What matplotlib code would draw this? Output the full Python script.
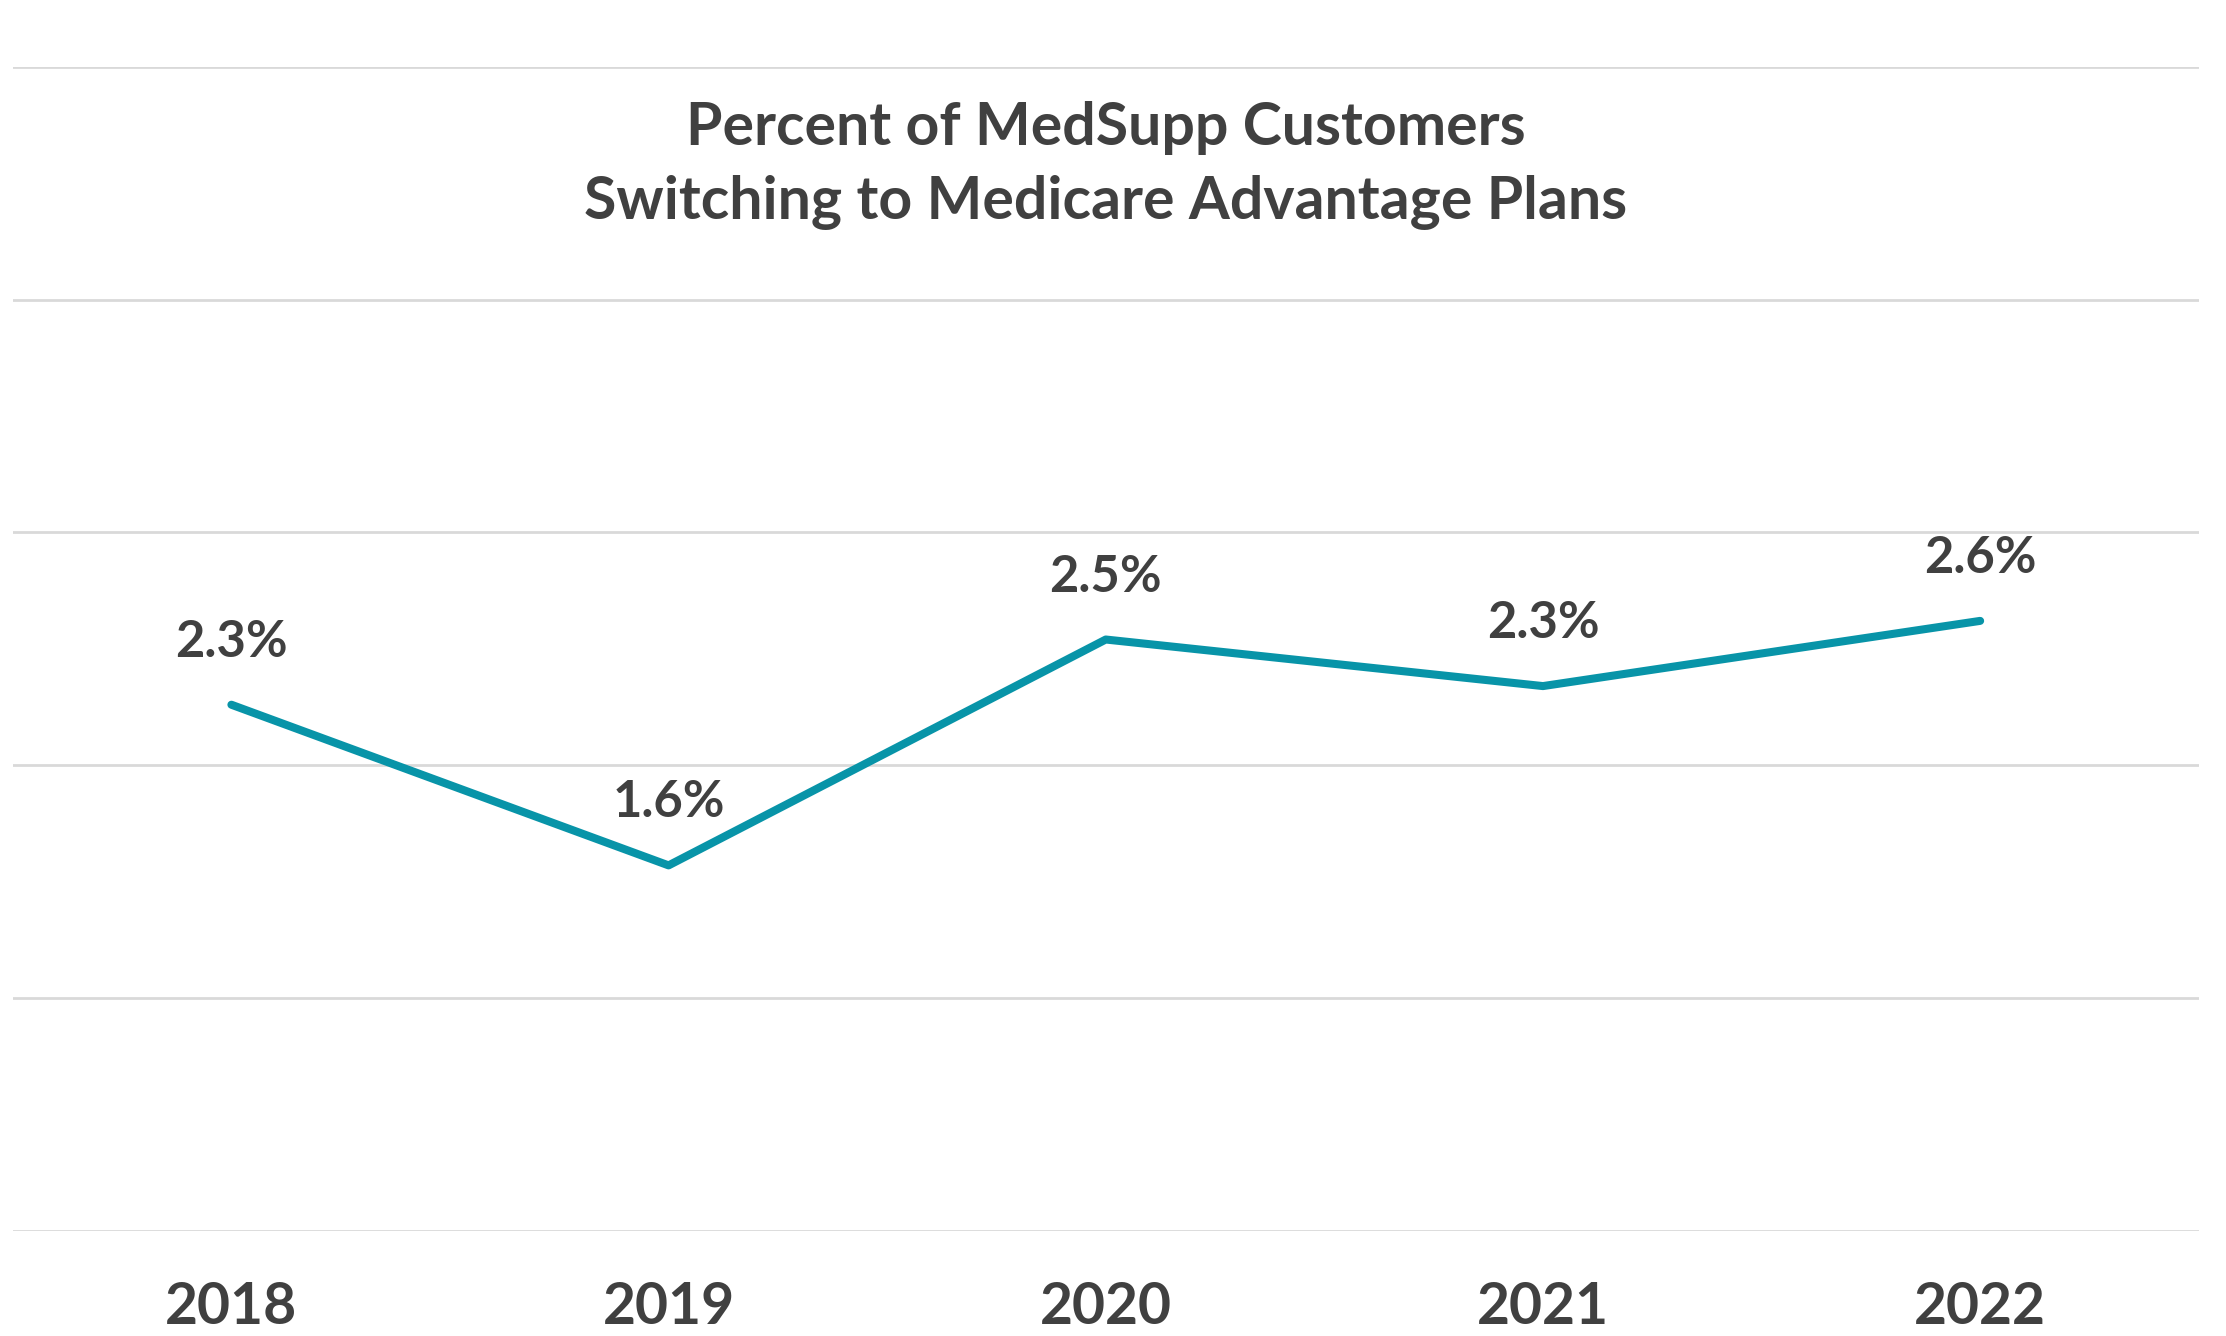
import matplotlib
matplotlib.use("Agg")
import matplotlib.pyplot as plt

years = ["2018", "2019", "2020", "2021", "2022"]
pct = [2.26, 1.57, 2.54, 2.34, 2.62]
labels = ["2.3%", "1.6%", "2.5%", "2.3%", "2.6%"]

plt.rcParams['font.family'] = ['Lato', 'DejaVu Sans']
text_col = '#404040'
line_col = '#0894A8'

fig = plt.figure(figsize=(22.26, 13.36), dpi=100)
ax = fig.add_axes([0.00575, 0.0786, 0.982, 0.8715])

x = list(range(len(years)))
ax.plot(x, pct, color=line_col, lw=5.8, solid_capstyle='round', solid_joinstyle='round', zorder=3)
for xi, yi, lab in zip(x, pct, labels):
    ax.annotate(lab, (xi, yi), xytext=(0, 45), textcoords='offset points',
                ha='center', va='center', fontsize=36.5, fontweight='bold', color=text_col)

ax.set_xlim(-0.5, 4.5)
ax.set_ylim(0, 5)
ax.set_yticks(range(6))
ax.yaxis.grid(True, color='#D9D9D9', lw=2)
ax.set_axisbelow(True)
ax.tick_params(axis='y', left=False, labelleft=False)
ax.tick_params(axis='x', length=0, pad=36, labelsize=41, labelcolor=text_col)
ax.set_xticks(x)
ax.set_xticklabels(years, fontweight='bold')
for s in ax.spines.values():
    s.set_visible(False)

ax.text(0.5, 0.915, "Percent of MedSupp Customers\nSwitching to Medicare Advantage Plans",
        transform=ax.transAxes, ha='center', va='center', fontsize=42.5, fontweight='bold',
        color=text_col, linespacing=1.47)

fig.savefig("out.png", dpi=100, facecolor='white')
